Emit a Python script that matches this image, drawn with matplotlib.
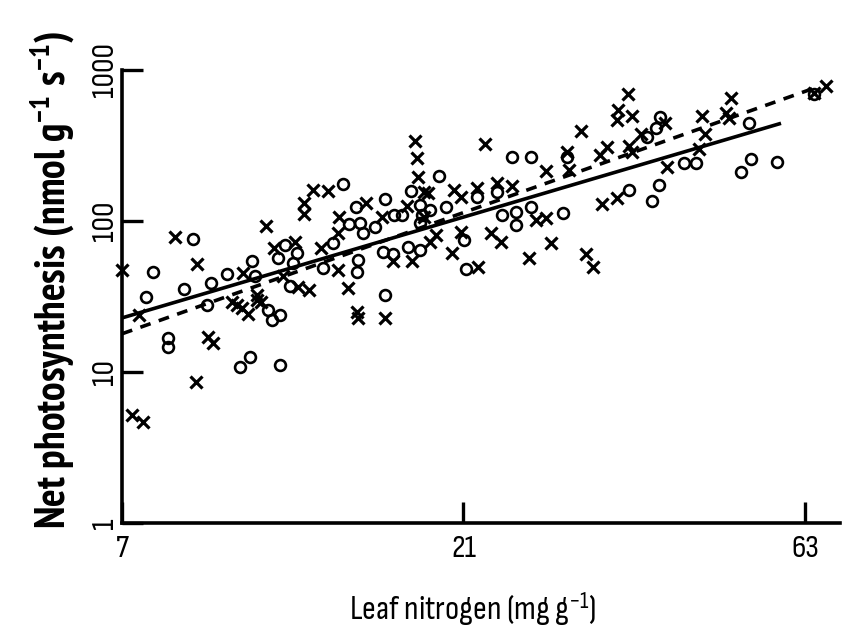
import matplotlib
matplotlib.use("Agg")
from matplotlib import pyplot as plt
from matplotlib import font_manager as fm

# superscripts in the labels use the label's own font
plt.rcParams['mathtext.default'] = 'regular'

# leaf nitrogen (mg/g) and net photosynthesis (nmol/g/s), group shown with 'x'
nx = [8.30, 11.12, 12.56, 12.56, 12.93, 13.57, 14.05, 14.01, 11.40, 12.20,
      13.27, 17.94, 18.11, 18.17, 22.53, 30.68, 29.33, 29.52, 27.42, 18.52,
      18.71, 20.40, 20.86, 21.96, 23.42, 24.58, 15.37, 17.49, 16.14, 19.25,
      18.83, 20.86, 22.97, 23.72, 26.55, 27.42, 27.86, 20.27, 25.96, 31.18,
      31.88, 35.68, 49.67, 67.40, 64.84, 34.55, 34.44, 36.14, 40.18, 37.20,
      45.25, 48.88, 49.36, 45.69, 33.36, 32.61, 35.80, 36.14, 44.81, 40.45,
      32.82, 34.44, 7.00, 8.91, 14.01, 10.32, 11.74, 12.32, 12.76, 14.47,
      14.89, 14.94, 7.39, 9.23, 9.38, 9.97, 10.13, 10.29, 10.49, 10.80,
      10.80, 10.94, 8.88, 7.23, 7.49, 16.29, 16.72, 17.77, 22.03, 18.52]
px_ = [78.4, 92.7, 132, 111, 160, 158, 106, 83.3, 66.3, 72.6,
       66.3, 339, 261, 196, 324, 395, 286, 218, 214, 156,
       153, 160, 144, 165, 179, 171, 132, 126, 106, 80.8,
       72.6, 84.6, 83.3, 72.6, 102, 105, 71.5, 61.4, 56.9, 60.5,
       49.6, 694, 653, 784, 704, 543, 467, 496, 446, 377,
       496, 519, 481, 377, 309, 274, 314, 286, 300, 228,
       130, 142, 47.4, 51.9, 47.4, 45.3, 43.2, 36.6, 34.9, 36.0,
       25.0, 22.8, 23.9, 17.1, 15.6, 29.1, 27.8, 26.5, 24.2, 32.4,
       30.0, 29.1, 8.59, 5.19, 4.67, 22.8, 54.4, 54.4, 49.6, 106]

# group shown with 'o'
no = [8.79, 14.23, 14.51, 14.84, 13.79, 11.82, 12.28, 19.44, 24.58, 26.13,
      29.33, 17.71, 21.96, 23.42, 16.29, 18.23, 19.82, 16.82, 17.21, 18.35,
      18.83, 15.03, 15.78, 15.18, 18.23, 17.54, 18.23, 21.06, 23.80, 24.90,
      24.90, 26.13, 28.95, 16.19, 16.72, 39.55, 39.04, 37.93, 52.63, 42.71,
      44.38, 52.97, 51.29, 57.57, 39.42, 38.54, 35.80, 7.73, 10.63, 11.55,
      7.56, 8.54, 9.32, 9.81, 10.73, 12.12, 12.01, 13.35, 14.89, 14.94,
      8.12, 8.12, 9.20, 11.19, 11.33, 11.63, 10.56, 10.23, 11.63, 16.29,
      21.20, 64.84]
po = [76.0, 176, 95.5, 124, 71.5, 69.4, 61.4, 199, 265, 265,
      265, 158, 144, 156, 140, 128, 124, 110, 110, 110,
      118, 97.0, 91.3, 83.3, 97.0, 67.3, 64.3, 74.8, 110, 115,
      94.1, 124, 113, 62.3, 60.5, 489, 413, 360, 446, 242,
      242, 257, 211, 246, 173, 136, 160, 45.9, 54.4, 56.9,
      31.4, 35.5, 38.9, 44.6, 43.2, 52.7, 37.1, 48.8, 45.9, 55.2,
      16.8, 14.6, 27.8, 25.7, 22.1, 23.9, 12.6, 10.8, 11.1, 32.4,
      48.1, 694]

# fitted lines (end points)
solid_x = [7, 58]
solid_y = [22.8, 440]
dash_x = [7, 66]
dash_y = [17.9, 780]

xticks = [7, 21, 63]
yticks = [1, 10, 100, 1000]


# the original uses a narrow sans; take a condensed face if one is installed
def narrow_font(weight):
    best = None
    for f in fm.fontManager.ttflist:
        name = f.fname.lower()
        if not ('narrow' in name or 'condensed' in name):
            continue
        if 'semi' in name or 'extra' in name or 'ultra' in name or 'italic' in name:
            continue
        isbold = 'bold' in name and 'semibold' not in name
        if (weight == 'bold') != isbold:
            continue
        if weight != 'bold' and any(w in name for w in ['light', 'thin', 'medium', 'black', 'semibold']):
            continue
        if best is None or 'sans' in name:
            best = f.fname
    return best


reg_path = narrow_font('normal')
bold_path = narrow_font('bold')
if reg_path:
    tick_fp = fm.FontProperties(fname=reg_path, size=23.5)
    xlab_fp = fm.FontProperties(fname=reg_path, size=24.5)
else:
    tick_fp = fm.FontProperties(family='Liberation Sans', size=20)
    xlab_fp = fm.FontProperties(family='Liberation Sans', size=20)
if bold_path:
    ylab_fp = fm.FontProperties(fname=bold_path, size=30)
else:
    ylab_fp = fm.FontProperties(family='Liberation Sans', weight='bold', size=24)

fig = plt.figure(figsize=(8.43, 6.31), dpi=100)
ax = fig.add_axes([0.1447, 0.1712, 0.8517, 0.7179])

ax.plot(no, po, 'o', ms=7.8, mfc='none', mec='black', mew=1.9, clip_on=False)
ax.plot(nx, px_, 'x', ms=8.8, mec='black', mew=2.3, clip_on=False)
ax.plot(solid_x, solid_y, '-', color='black', lw=2.6)
ax.plot(dash_x, dash_y, '--', color='black', lw=2.6, dashes=(3.0, 2.4))

ax.set_xscale('log')
ax.set_yscale('log')
ax.set_xlim(7, 70.5)
ax.set_ylim(1, 1000)

ax.set_xticks(xticks)
ax.set_xticklabels([str(v) for v in xticks])
ax.set_yticks(yticks)
ax.set_yticklabels([str(v) for v in yticks])
ax.minorticks_off()
ax.tick_params(direction='in', length=15, width=2.4)
ax.tick_params(axis='x', pad=9)
ax.tick_params(axis='y', pad=2.5)
for lab in ax.get_xticklabels():
    lab.set_fontproperties(tick_fp)
for lab in ax.get_yticklabels():
    lab.set_fontproperties(tick_fp)
    lab.set_rotation(90)
    lab.set_va('center')

for s in ['top', 'right']:
    ax.spines[s].set_visible(False)
for s in ['left', 'bottom']:
    ax.spines[s].set_linewidth(2.6)

ax.set_xlabel('Leaf nitrogen (mg g$^{-1}$)', fontproperties=xlab_fp, va='baseline')
ax.xaxis.set_label_coords(0.488, -0.214)
ax.set_ylabel('Net photosynthesis (nmol g$^{-1}$ s$^{-1}$)', fontproperties=ylab_fp, va='baseline')
ax.yaxis.set_label_coords(-0.079, 0.536)

plt.savefig("out.png", dpi=100)
